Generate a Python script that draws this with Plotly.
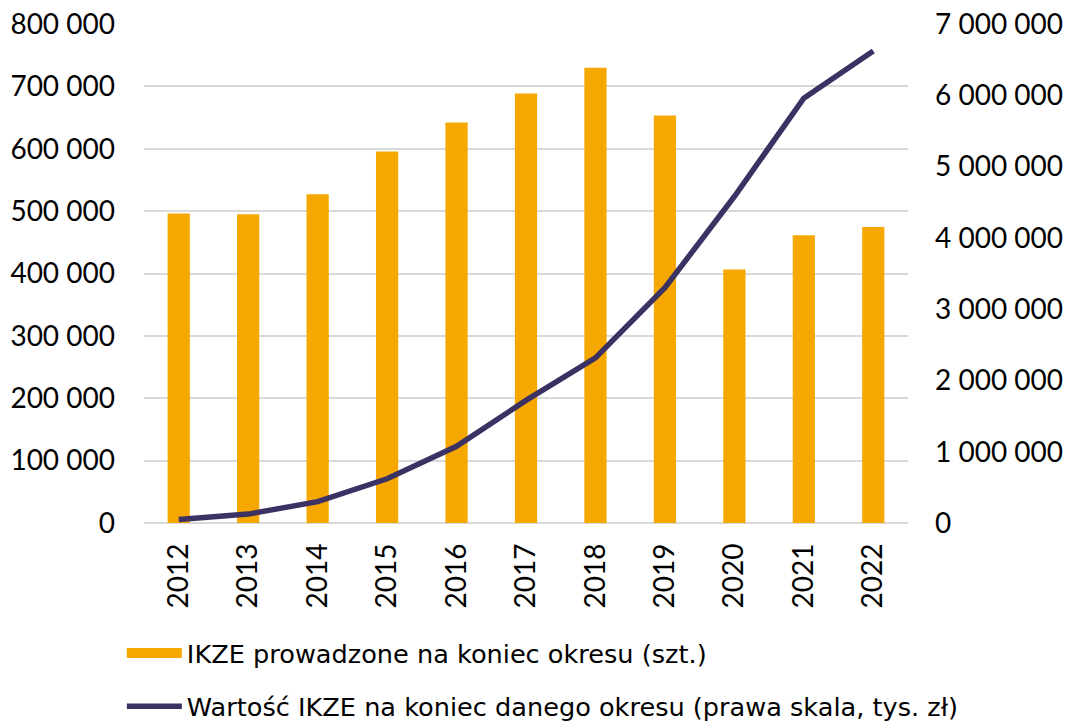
import plotly.graph_objects as go

years = ["2012", "2013", "2014", "2015", "2016", "2017", "2018", "2019", "2020", "2021", "2022"]
accounts = [496000, 495000, 527000, 595500, 642000, 688500, 730000, 653500, 406500, 461500, 474500]
value_k_pln = [50000, 125000, 300000, 620000, 1077000, 1720000, 2317000, 3300000, 4580000, 5960000, 6620000]

bar_name = "IKZE prowadzone na koniec okresu (szt.)"
line_name = "Wartość IKZE na koniec danego okresu (prawa skala, tys. zł)"

FONT = "Lato"
LEGEND_FONT = "DejaVu Sans"
ORANGE = "#F6A800"
PURPLE = "#3B3162"
GRID = "#D9D9D9"

fig = go.Figure()
fig.add_trace(go.Bar(
    x=years, y=accounts, name=bar_name,
    marker=dict(color=ORANGE, line=dict(width=0)),
    showlegend=False,
))
# wide rectangular key for the bar series
fig.add_trace(go.Scatter(
    x=[None], y=[None], name=bar_name, mode="lines",
    line=dict(color=ORANGE, width=18), legendgroup="a",
))
fig.add_trace(go.Scatter(
    x=years, y=value_k_pln, name=line_name, yaxis="y2",
    mode="lines", line=dict(color=PURPLE, width=5.5),
    legendgroup="b",
))

fig.update_layout(
    width=1076, height=722,
    margin=dict(l=143.5, r=168, t=24.3, b=198.5, autoexpand=False),
    paper_bgcolor="white", plot_bgcolor="white",
    separators=", ",
    bargap=0.68,
    font=dict(family=FONT, size=28, color="#000000"),
    xaxis=dict(
        type="category", tickangle=-90, showgrid=False, showline=False,
        ticks="", ticklabelstandoff=14, tickfont=dict(size=28),
    ),
    yaxis=dict(
        range=[0, 800000], dtick=100000, tickformat=",d",
        showgrid=True, gridcolor=GRID, gridwidth=1.5,
        zeroline=True, zerolinecolor=GRID, zerolinewidth=1.5,
        showline=False, ticks="", ticklabelstandoff=28,
    ),
    yaxis2=dict(
        range=[0, 7000000], dtick=1000000, tickformat=",d",
        overlaying="y", side="right", showgrid=False, zeroline=False,
        showline=False, ticks="", ticklabelstandoff=26,
    ),
    showlegend=True,
    legend=dict(
        x=-0.029, xanchor="left", y=-0.214, yanchor="top",
        orientation="v", traceorder="grouped", tracegroupgap=17,
        font=dict(family=LEGEND_FONT, size=25.6, color="#000000"),
        bgcolor="rgba(0,0,0,0)", itemwidth=55,
    ),
)

fig.write_html("out.html")
